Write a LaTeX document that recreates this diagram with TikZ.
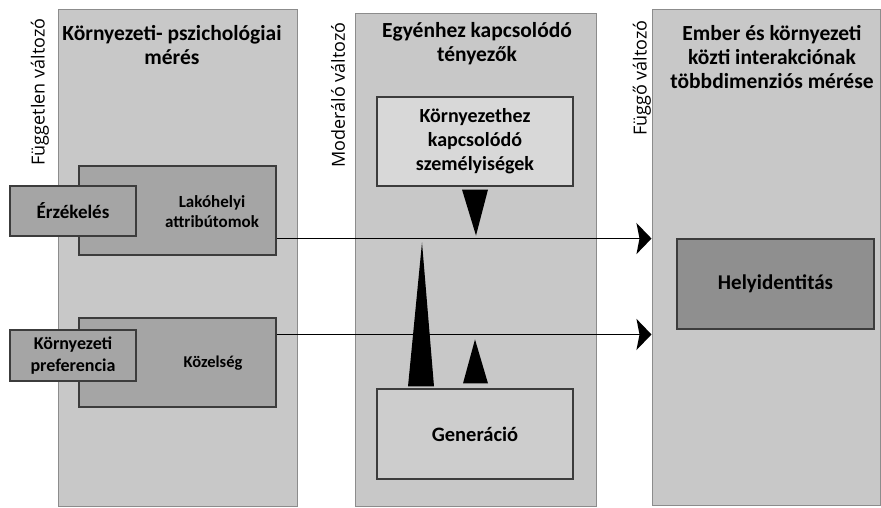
\documentclass[tikz,border=0pt]{standalone}
\usepackage{fontspec}
\setmainfont{Carlito}
\newfontfamily\labelfont{Open Sans}
\usetikzlibrary{arrows.meta,calc}
\definecolor{colfill}{HTML}{C8C8C8}
\definecolor{colline}{HTML}{8C8C8C}
\definecolor{darkbox}{HTML}{A5A5A5}
\definecolor{darkerbox}{HTML}{8F8F8F}
\definecolor{lightbox}{HTML}{D8D8D8}
\definecolor{boxline}{HTML}{3C3C3C}
\tikzset{
  column/.style={draw=colline,fill=colfill,line width=1pt,inner sep=0pt},
  box/.style={draw=boxline,line width=1.1pt,inner sep=0pt,align=center,font=\fontsize{17}{20}\selectfont\bfseries},
  title/.style={align=center,font=\fontsize{21.5}{24}\selectfont\bfseries},
  side/.style={rotate=90,font=\labelfont\fontsize{18}{20}\selectfont},
  conn/.style={line width=1.8pt,-{Stealth[length=15pt,width=31pt,inset=3pt]}},
}
\begin{document}
\begin{tikzpicture}[x=1pt,y=-1pt]
  \useasboundingbox[fill=white] (0,0) rectangle (881,507);
  % columns
  \node[column,minimum width=239pt,minimum height=497pt] (indep) at (177.5,257.5) {};
  \node[column,minimum width=241pt,minimum height=493pt] (mod) at (475.5,259.5) {};
  \node[column,minimum width=228pt,minimum height=496pt] (dep) at (766,257) {};
  \node[title] (t1) at (172,45) {Környezeti- pszichológiai\\mérés};
  \node[title] (t2) at (477,44) {Egyénhez kapcsolódó\\tényezők};
  \node[title] (t3) at (772,57) {Ember és környezeti\\közti interakciónak\\többdimenziós mérése};
  \node[side] (s1) at (40,92) {Független változó};
  \node[side] (s2) at (338,95) {Moderáló változó};
  \node[side] (s3) at (642,78) {Függő változó};
  % left column boxes
  \node[box,fill=darkbox,minimum width=197pt,minimum height=89pt] (lak) at (177.5,210.5) {};
  \node[box,draw=none] (laktext) at (212,212) {Lakóhelyi\\attribútomok};
  \node[box,fill=darkbox,minimum width=126pt,minimum height=50pt,font=\fontsize{19}{22}\selectfont\bfseries] (erz) at (73,211) {Érzékelés};
  \node[box,fill=darkbox,minimum width=197pt,minimum height=89pt] (koz) at (177.5,362.5) {};
  \node[box,draw=none,font=\fontsize{16.5}{20}\selectfont\bfseries] (koztext) at (213,363) {Közelség};
  \node[box,fill=darkbox,minimum width=126pt,minimum height=51pt,font=\fontsize{18}{22}\selectfont\bfseries] (pref) at (73,355.5) {Környezeti\\preferencia};
  % middle column boxes
  \node[box,fill=lightbox,minimum width=196pt,minimum height=89pt,font=\fontsize{20}{24}\selectfont\bfseries] (szem) at (475,141.5) {Környezethez\\kapcsolódó\\személyiségek};
  \node[box,fill=lightbox!95!black,minimum width=196pt,minimum height=90pt,font=\fontsize{20.5}{22}\selectfont\bfseries] (gen) at (475,434) {Generáció};
  % right column box
  \node[box,fill=darkerbox,minimum width=197pt,minimum height=90pt,font=\fontsize{21}{22}\selectfont\bfseries] (hely) at (775.5,284) {Helyidentitás};
  % connectors
  \draw[conn] ([yshift=17pt]lak.south east) -- ([yshift=17pt]lak.south east -| dep.west);
  \draw[conn] ([yshift=-17pt]koz.north east) -- ([yshift=-17pt]koz.north east -| dep.west);
  % moderating wedges
  \fill ($(szem.south)+(-13,3)$) -- ($(szem.south)+(13,3)$) -- ($(szem.south)+(1,49)$) -- cycle;
  \fill ($(gen.north)+(-67,-2)$) -- ($(gen.north)+(-41,-2)$) -- ($(gen.north)+(-53,-146)$) -- cycle;
  \fill ($(gen.north)+(-12,-5)$) -- ($(gen.north)+(13,-5)$) -- ($(gen.north)+(0,-49)$) -- cycle;
\end{tikzpicture}
\end{document}
